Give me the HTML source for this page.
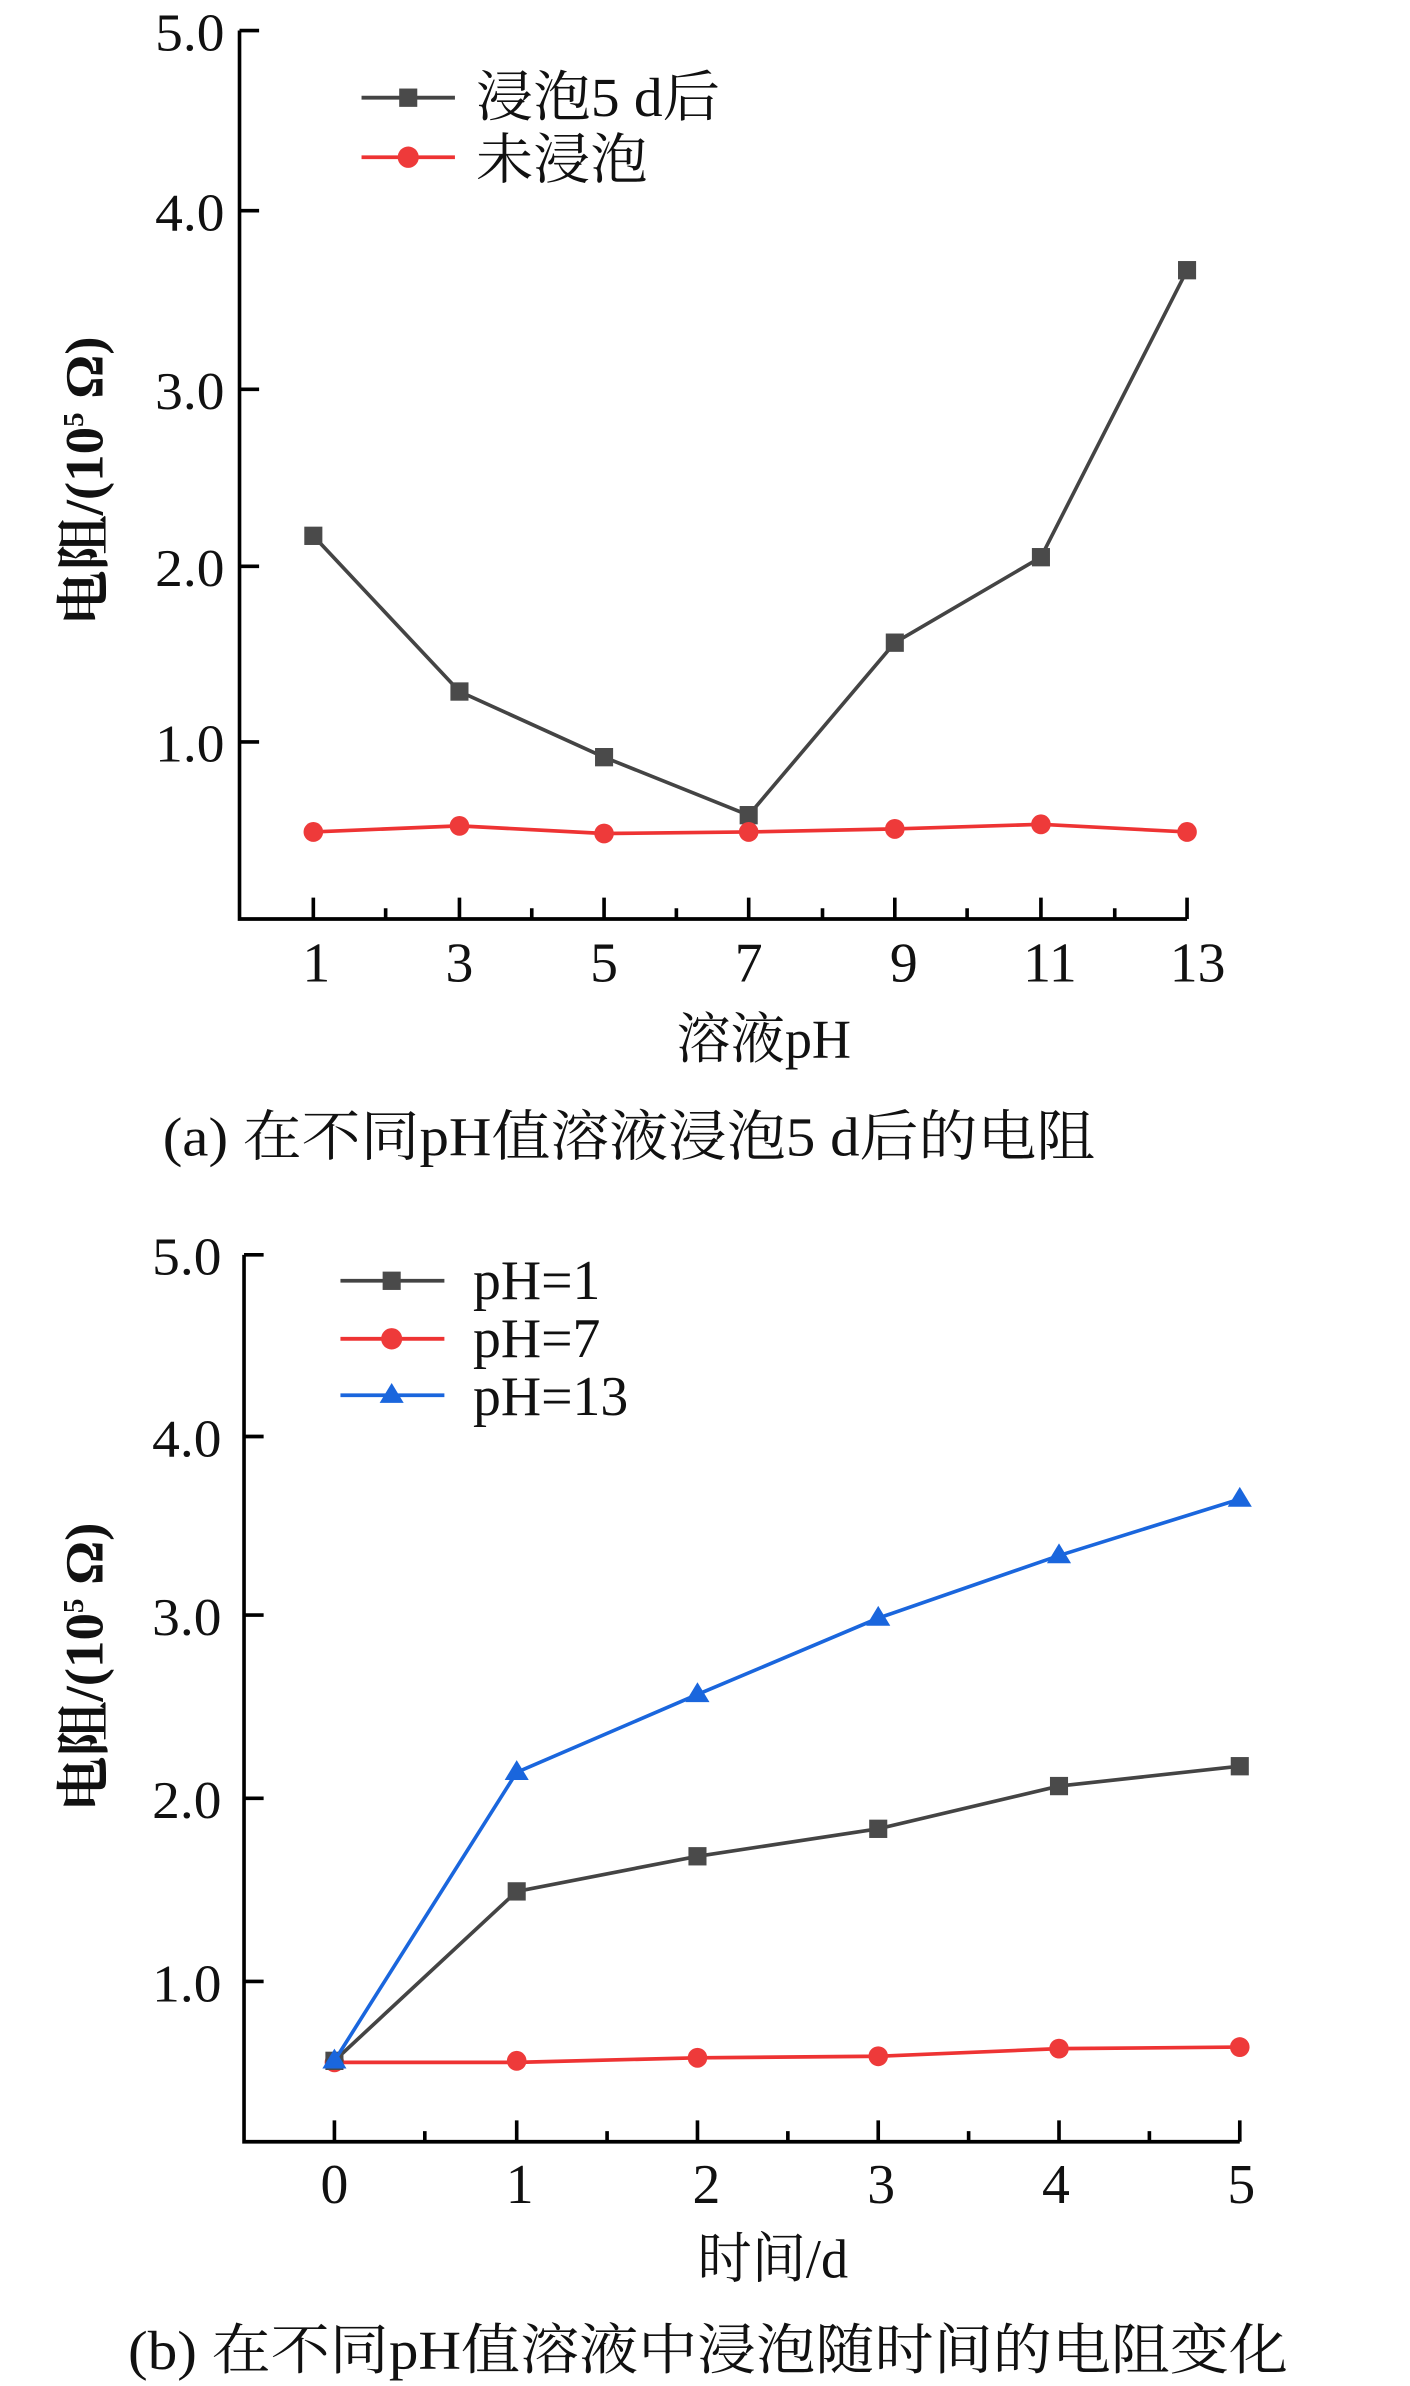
<!DOCTYPE html>
<html><head><meta charset="utf-8"><style>
html,body{margin:0;padding:0;background:#fff}
svg{display:block}
text{font-family:"Liberation Serif","Noto Serif CJK SC","Noto Sans CJK SC",serif;fill:#111}
</style></head><body>
<svg width="1410" height="2386" viewBox="0 0 936 1563" preserveAspectRatio="none" xmlns="http://www.w3.org/2000/svg">
<rect width="936" height="1563" fill="#fff"/>
<!-- Chart a -->
<g stroke="#000" stroke-width="2.4" fill="none">
<path d="M159,20 V602 H788"/>
<path d="M159,20 h13 M159,138 h13 M159,255 h13 M159,371 h13 M159,486 h13"/>
<path d="M208,602 v-14 M305,602 v-14 M401,602 v-14 M497,602 v-14 M594,602 v-14 M691,602 v-14 M788,602 v-14"/>
<path d="M256,602 v-7 M353,602 v-7 M449,602 v-7 M546,602 v-7 M642,602 v-7 M740,602 v-7"/>
</g>
<g font-size="35" text-anchor="end">
<text x="149" y="33" textLength="46" lengthAdjust="spacingAndGlyphs">5.0</text>
<text x="149" y="151" textLength="46" lengthAdjust="spacingAndGlyphs">4.0</text>
<text x="149" y="268" textLength="46" lengthAdjust="spacingAndGlyphs">3.0</text>
<text x="149" y="384" textLength="46" lengthAdjust="spacingAndGlyphs">2.0</text>
<text x="149" y="499" textLength="46" lengthAdjust="spacingAndGlyphs">1.0</text>
</g>
<g font-size="37" text-anchor="middle">
<text x="210" y="643">1</text><text x="305" y="643">3</text><text x="401" y="643">5</text><text x="497" y="643">7</text><text x="600" y="643">9</text><text x="697" y="643">11</text><text x="795" y="643">13</text>
<text x="507" y="693" font-size="36">溶液pH</text>
</g>
<text transform="translate(68,315) rotate(-90)" font-size="36" text-anchor="middle" font-weight="bold">电阻/(10<tspan font-size="19" dy="-13">5</tspan><tspan dy="13"> Ω)</tspan></text>
<polyline points="208,351 305,453 401,496 497,534 594,421 691,365 788,177" fill="none" stroke="#444" stroke-width="2.4"/>
<g fill="#4a4a4a"><rect x="202" y="345" width="12" height="12"/><rect x="299" y="447" width="12" height="12"/><rect x="395" y="490" width="12" height="12"/><rect x="491" y="528" width="12" height="12"/><rect x="588" y="415" width="12" height="12"/><rect x="685" y="359" width="12" height="12"/><rect x="782" y="171" width="12" height="12"/></g>
<polyline points="208,545 305,541 401,546 497,545 594,543 691,540 788,545" fill="none" stroke="#ee3333" stroke-width="2.4"/>
<g fill="#ee3a3a"><circle cx="208" cy="545" r="6.5"/><circle cx="305" cy="541" r="6.5"/><circle cx="401" cy="546" r="6.5"/><circle cx="497" cy="545" r="6.5"/><circle cx="594" cy="543" r="6.5"/><circle cx="691" cy="540" r="6.5"/><circle cx="788" cy="545" r="6.5"/></g>
<line x1="240" y1="64" x2="302" y2="64" stroke="#444" stroke-width="2.5"/><rect x="265" y="58" width="12" height="12" fill="#4a4a4a"/>
<line x1="240" y1="103" x2="302" y2="103" stroke="#ee3333" stroke-width="2.5"/><circle cx="271" cy="103" r="7" fill="#ee3a3a"/>
<text x="316" y="76" font-size="36" textLength="162" lengthAdjust="spacingAndGlyphs">浸泡5 d后</text>
<text x="316" y="117" font-size="36" textLength="114" lengthAdjust="spacingAndGlyphs">未浸泡</text>
<text x="108" y="757" font-size="36" textLength="619" lengthAdjust="spacingAndGlyphs">(a) 在不同pH值溶液浸泡5 d后的电阻</text>

<!-- Chart b -->
<g stroke="#000" stroke-width="2.4" fill="none">
<path d="M162,822 V1403 H823"/>
<path d="M162,822 h13 M162,941 h13 M162,1058 h13 M162,1178 h13 M162,1298 h13"/>
<path d="M222,1403 v-14 M343,1403 v-14 M463,1403 v-14 M583,1403 v-14 M703,1403 v-14 M823,1403 v-14"/>
<path d="M282,1403 v-7 M403,1403 v-7 M523,1403 v-7 M643,1403 v-7 M763,1403 v-7"/>
</g>
<g font-size="35" text-anchor="end">
<text x="147" y="835" textLength="46" lengthAdjust="spacingAndGlyphs">5.0</text>
<text x="147" y="954" textLength="46" lengthAdjust="spacingAndGlyphs">4.0</text>
<text x="147" y="1071" textLength="46" lengthAdjust="spacingAndGlyphs">3.0</text>
<text x="147" y="1191" textLength="46" lengthAdjust="spacingAndGlyphs">2.0</text>
<text x="147" y="1311" textLength="46" lengthAdjust="spacingAndGlyphs">1.0</text>
</g>
<g font-size="37" text-anchor="middle">
<text x="222" y="1443">0</text><text x="345" y="1443">1</text><text x="469" y="1443">2</text><text x="585" y="1443">3</text><text x="701" y="1443">4</text><text x="824" y="1443">5</text>
<text x="513" y="1492" font-size="36">时间/d</text>
</g>
<text transform="translate(68,1092) rotate(-90)" font-size="36" text-anchor="middle" font-weight="bold">电阻/(10<tspan font-size="19" dy="-13">5</tspan><tspan dy="13"> Ω)</tspan></text>
<polyline points="222,1351 343,1351 463,1348 583,1347 703,1342 823,1341" fill="none" stroke="#ee3333" stroke-width="2.4"/>
<g fill="#ee3a3a"><circle cx="222" cy="1351" r="6.5"/><circle cx="343" cy="1350" r="6.5"/><circle cx="463" cy="1348" r="6.5"/><circle cx="583" cy="1347" r="6.5"/><circle cx="703" cy="1342" r="6.5"/><circle cx="823" cy="1341" r="6.5"/></g>
<polyline points="222,1350 343,1239 463,1216 583,1198 703,1170 823,1157" fill="none" stroke="#444" stroke-width="2.4"/>
<g fill="#4a4a4a"><rect x="216" y="1344" width="12" height="12"/><rect x="337" y="1233" width="12" height="12"/><rect x="457" y="1210" width="12" height="12"/><rect x="577" y="1192" width="12" height="12"/><rect x="697" y="1164" width="12" height="12"/><rect x="817" y="1151" width="12" height="12"/></g>
<polyline points="222,1350 343,1161 463,1110 583,1060 703,1019 823,982" fill="none" stroke="#1a66dd" stroke-width="2.4"/>
<g fill="#1a66dd"><path d="M222,1342 l8,13 h-16z"/><path d="M343,1153 l8,13 h-16z"/><path d="M463,1102 l8,13 h-16z"/><path d="M583,1052 l8,13 h-16z"/><path d="M703,1011 l8,13 h-16z"/><path d="M823,974 l8,13 h-16z"/></g>
<line x1="226" y1="839" x2="295" y2="839" stroke="#444" stroke-width="2.5"/><rect x="254" y="833" width="12" height="12" fill="#4a4a4a"/>
<line x1="226" y1="877" x2="295" y2="877" stroke="#ee3333" stroke-width="2.5"/><circle cx="260" cy="877" r="7" fill="#ee3a3a"/>
<line x1="226" y1="914" x2="295" y2="914" stroke="#1a66dd" stroke-width="2.5"/><path d="M260,906 l8,13 h-16z" fill="#1a66dd"/>
<text x="314" y="851" font-size="37">pH=1</text>
<text x="314" y="889" font-size="37">pH=7</text>
<text x="314" y="927" font-size="37">pH=13</text>
<text x="85" y="1552" font-size="36" textLength="770" lengthAdjust="spacingAndGlyphs">(b) 在不同pH值溶液中浸泡随时间的电阻变化</text>
</svg>
</body></html>
